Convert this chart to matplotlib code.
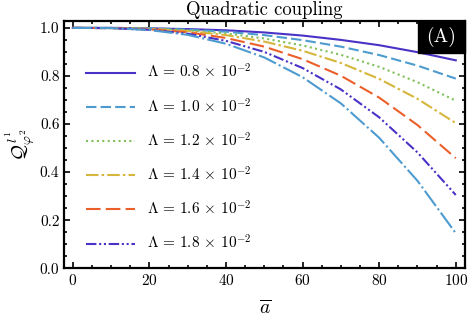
import numpy as np
import matplotlib
matplotlib.use('Agg')
import matplotlib.pyplot as plt
from matplotlib.patches import Rectangle

plt.rcParams['font.family'] = 'serif'
plt.rcParams['font.serif'] = ['cmr10', 'DejaVu Serif']
plt.rcParams['mathtext.fontset'] = 'cm'
plt.rcParams['axes.formatter.use_mathtext'] = True

# values
abar = [0, 10, 20, 30, 40, 50, 60, 70, 80, 90, 100]
lam_labels = ['0.8', '1.0', '1.2', '1.4', '1.6', '1.8', '2.0']
Q_08 = [1.0, 1.0, 0.998, 0.995, 0.990, 0.981, 0.968, 0.950, 0.928, 0.899, 0.865]
Q_10 = [1.0, 1.0, 0.998, 0.993, 0.984, 0.970, 0.949, 0.922, 0.887, 0.843, 0.789]
Q_12 = [1.0, 1.0, 0.997, 0.990, 0.977, 0.956, 0.927, 0.888, 0.838, 0.774, 0.697]
Q_14 = [1.0, 0.999, 0.996, 0.987, 0.970, 0.943, 0.905, 0.854, 0.788, 0.705, 0.604]
Q_16 = [1.0, 0.999, 0.994, 0.982, 0.958, 0.922, 0.870, 0.801, 0.710, 0.596, 0.458]
Q_18 = [1.0, 0.999, 0.992, 0.976, 0.946, 0.900, 0.833, 0.744, 0.628, 0.482, 0.305]
Q_20 = [1.0, 0.999, 0.991, 0.971, 0.934, 0.877, 0.795, 0.686, 0.543, 0.364, 0.146]
Qs = [Q_08, Q_10, Q_12, Q_14, Q_16, Q_18, Q_20]

colors = ['#4b32c6', '#4e9bd0', '#80c05a', '#d6b63c', '#eb5f2a', '#4b32c6', '#4e9bd0']
styles = ['-', (0, (5, 2)), (0, (1, 1.6)), (0, (6, 1.5, 1.2, 1.5)),
          (0, (7, 2.5)), (0, (5, 1.3, 1, 1.3, 1, 1.3)), (0, (9, 1.5, 1, 1.5))]

fig = plt.figure(figsize=(4.73, 3.28), dpi=100)
ax = fig.add_axes([0.136, 0.182, 0.847, 0.755])

for ix in range(7):
  lab = r'$\Lambda\, =\, %s \,\times\, 10^{-2}$' % lam_labels[ix] if ix < 6 else None
  ax.plot(abar, Qs[ix], color=colors[ix], ls=styles[ix], lw=1.5, label=lab)

ax.set_xlim(-2.2, 102.4)
ax.set_ylim(0, 1.03)
ax.set_xticks([0, 20, 40, 60, 80, 100])
ax.set_xticks(np.arange(0, 101, 5), minor=True)
ax.set_yticks([0.0, 0.2, 0.4, 0.6, 0.8, 1.0])
ax.set_yticks(np.arange(0, 1.01, 0.05), minor=True)
ax.set_yticklabels(['0.0', '0.2', '0.4', '0.6', '0.8', '1.0'])
ax.tick_params(which='both', direction='in', top=True, right=True, labelsize=11, width=1.2)
ax.tick_params(which='major', length=4.5)
ax.tick_params(which='minor', length=2.5)
for s in ax.spines.values():
  s.set_linewidth(1.6)

ax.set_title('Quadratic coupling', fontsize=13.5, pad=4)
ax.set_xlabel(r'$\overline{a}$', fontsize=14, labelpad=8)
ax.set_ylabel(r'$\mathcal{Q}^{\,l^1}_{\varphi^2}$', fontsize=14, labelpad=2)

ax.legend(loc='upper left', bbox_to_anchor=(0.02, 0.885), frameon=False, fontsize=11,
          handlelength=3.2, labelspacing=1.05, handletextpad=0.8)

ax.add_patch(Rectangle((0.882, 0.868), 0.118, 0.132, transform=ax.transAxes,
                       fc='k', ec='k', zorder=5, clip_on=False))
ax.text(0.941, 0.934, '(A)', transform=ax.transAxes, color='w', fontsize=14,
        ha='center', va='center', zorder=6)

plt.savefig('out.png', dpi=100, facecolor='w')
